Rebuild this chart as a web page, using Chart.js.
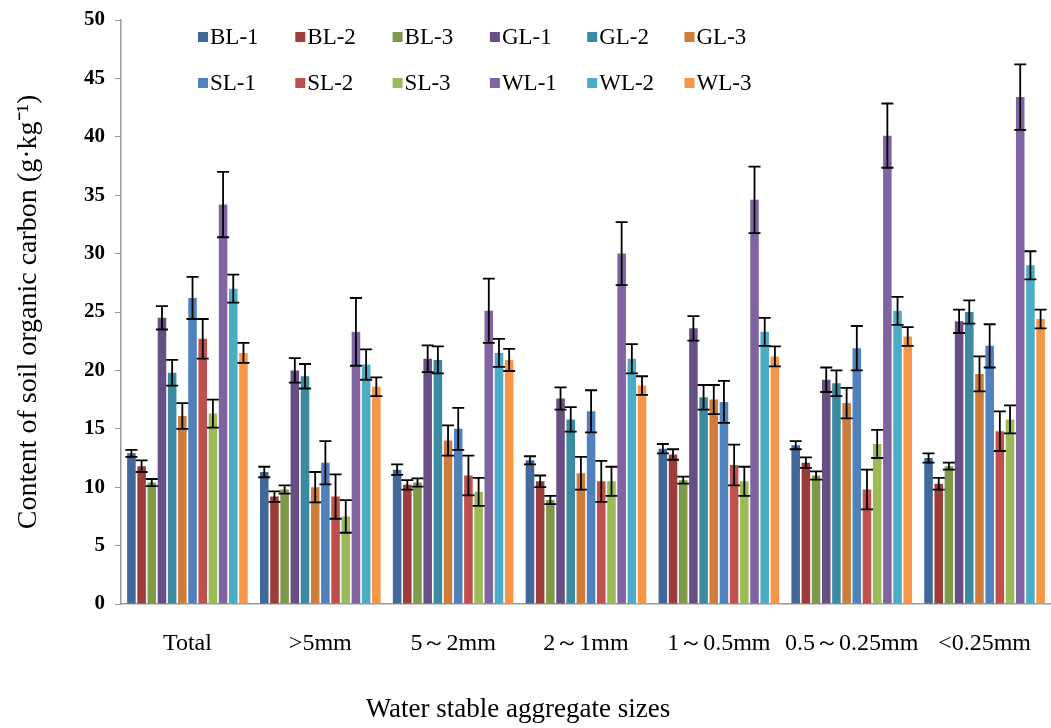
<!DOCTYPE html>
<html>
<head>
<meta charset="utf-8">
<script src="https://cdn.jsdelivr.net/npm/chart.js@4.4.1/dist/chart.umd.min.js"></script>
<style>
html,body{margin:0;padding:0;background:#fff;}
#wrap{width:1051px;height:728px;position:relative;}
</style>
</head>
<body>
<div id="wrap"><canvas id="c" width="1051" height="728"></canvas></div>
<script>
const categories = ["Total", ">5mm", "5～2mm", "2～1mm", "1～0.5mm", "0.5～0.25mm", "<0.25mm"];
const seriesNames = ["BL-1","BL-2","BL-3","GL-1","GL-2","GL-3","SL-1","SL-2","SL-3","WL-1","WL-2","WL-3"];
const seriesColors = ["#416898","#9C3D3A","#7E9A48","#674F85","#3A8AA1","#CD7C3A",
                      "#4F81BD","#C0504D","#9BBB59","#8064A2","#4BACC6","#F79646"];
const yTicks = [0,5,10,15,20,25,30,35,40,45,50];

// mean values per series (one value per category)
const BL1 = [12.9, 11.3, 11.5, 12.3, 13.3, 13.6, 12.5];
const BL2 = [11.8,  9.2, 10.2, 10.5, 12.8, 12.1, 10.3];
const BL3 = [10.4,  9.8, 10.4,  8.9, 10.6, 11.0, 11.8];
const GL1 = [24.5, 20.0, 21.0, 17.6, 23.6, 19.2, 24.2];
const GL2 = [19.8, 19.5, 20.9, 15.8, 17.7, 18.9, 25.0];
const GL3 = [16.1, 10.0, 14.0, 11.2, 17.5, 17.2, 19.7];
const SL1 = [26.2, 12.1, 15.0, 16.5, 17.3, 21.9, 22.1];
const SL2 = [22.7,  9.2, 11.0, 10.5, 11.9,  9.8, 14.8];
const SL3 = [16.3,  7.5,  9.6, 10.5, 10.5, 13.7, 15.8];
const WL1 = [34.2, 23.3, 25.1, 30.0, 34.6, 40.1, 43.4];
const WL2 = [27.0, 20.5, 21.5, 21.0, 23.3, 25.1, 29.0];
const WL3 = [21.5, 18.6, 20.9, 18.7, 21.2, 22.9, 24.4];

// error (± half-range) per series
const BL1e = [0.3, 0.45, 0.45, 0.35, 0.4, 0.35, 0.4];
const BL2e = [0.5, 0.45, 0.4, 0.5, 0.45, 0.45, 0.5];
const BL3e = [0.3, 0.35, 0.35, 0.35, 0.3, 0.35, 0.3];
const GL1e = [1.0, 1.05, 1.15, 0.95, 1.05, 1.05, 1.0];
const GL2e = [1.1, 1.05, 1.15, 1.05, 1.05, 1.1, 1.0];
const GL3e = [1.1, 1.3, 1.3, 1.4, 1.25, 1.3, 1.5];
const SL1e = [1.8, 1.85, 1.8, 1.8, 1.8, 1.9, 1.85];
const SL2e = [1.7, 1.9, 1.7, 1.75, 1.75, 1.7, 1.7];
const SL3e = [1.2, 1.4, 1.2, 1.25, 1.25, 1.2, 1.2];
const WL1e = [2.8, 2.9, 2.75, 2.7, 2.85, 2.75, 2.8];
const WL2e = [1.2, 1.3, 1.2, 1.25, 1.2, 1.2, 1.2];
const WL3e = [0.85, 0.8, 0.95, 0.8, 0.85, 0.8, 0.8];

const seriesValues = [BL1,BL2,BL3,GL1,GL2,GL3,SL1,SL2,SL3,WL1,WL2,WL3];
const seriesErrors = [BL1e,BL2e,BL3e,GL1e,GL2e,GL3e,SL1e,SL2e,SL3e,WL1e,WL2e,WL3e];

const FONT = "'Liberation Serif', 'Times New Roman', serif";

const datasets = seriesNames.map((n,i)=>({
  label:n,
  data:seriesValues[i],
  errors:seriesErrors[i],
  backgroundColor:seriesColors[i],
  borderWidth:0,
  categoryPercentage:0.92,
  barPercentage:0.84
}));

const errorBars = {
  id:'errorBars',
  afterDatasetsDraw(chart){
    const ctx = chart.ctx, ys = chart.scales.y;
    ctx.save();
    ctx.strokeStyle = '#000';
    ctx.lineWidth = 1.8;
    chart.data.datasets.forEach((ds,di)=>{
      const meta = chart.getDatasetMeta(di);
      meta.data.forEach((bar,j)=>{
        const v = ds.data[j], e = ds.errors[j];
        const x = bar.x;
        const yt = ys.getPixelForValue(v+e), yb = ys.getPixelForValue(v-e);
        const hw = 6;
        ctx.beginPath();
        ctx.moveTo(x,yt); ctx.lineTo(x,yb);
        ctx.moveTo(x-hw,yt); ctx.lineTo(x+hw,yt);
        ctx.moveTo(x-hw,yb); ctx.lineTo(x+hw,yb);
        ctx.stroke();
      });
    });
    ctx.restore();
  }
};

const customLegend = {
  id:'customLegend',
  afterDraw(chart){
    const ctx = chart.ctx;
    ctx.save();
    ctx.font = "23px " + FONT;
    ctx.textBaseline = 'middle';
    ctx.textAlign = 'left';
    const x0 = 198, dx = 97.3, rows = [37, 83];
    chart.data.datasets.forEach((ds,i)=>{
      const col = i % 6, row = Math.floor(i/6);
      const x = x0 + col*dx, y = rows[row];
      ctx.fillStyle = ds.backgroundColor;
      ctx.fillRect(x, y-5, 10, 10);
      ctx.fillStyle = '#000';
      ctx.fillText(ds.label, x+12, y+1);
    });
    ctx.restore();
  }
};

const xTitle = {
  id:'xTitle',
  afterDraw(chart){
    const ctx = chart.ctx;
    ctx.save();
    ctx.font = "27px " + FONT;
    ctx.fillStyle = '#000';
    ctx.textAlign = 'center';
    ctx.textBaseline = 'middle';
    ctx.fillText("Water stable aggregate sizes", 518, 710);
    ctx.restore();
  }
};

new Chart(document.getElementById('c'), {
  type:'bar',
  data:{labels:categories, datasets},
  plugins:[errorBars, customLegend, xTitle],
  options:{
    responsive:false,
    animation:false,
    devicePixelRatio:1,
    layout:{padding:{top:20,right:0,bottom:0,left:0}},
    plugins:{legend:{display:false}, tooltip:{enabled:false}},
    scales:{
      x:{
        grid:{display:false, drawTicks:false},
        border:{display:true, color:'#999', width:1.5},
        ticks:{font:{family:FONT,size:24}, color:'#000', padding:25, maxRotation:0, autoSkip:false},
        afterFit(s){ s.height = 124; s.paddingLeft = 0; s.paddingRight = 0; }
      },
      y:{
        min:0, max:50,
        afterBuildTicks(s){ s.ticks = yTicks.map(v=>({value:v})); },
        grid:{drawOnChartArea:false, drawTicks:true, tickLength:6, color:'#999'},
        border:{display:true, color:'#999', width:1.5},
        ticks:{font:{family:FONT,size:21,weight:'bold'}, color:'#000', padding:10},
        title:{display:true, text:"Content of soil organic carbon (g·kg⁻¹)", font:{family:FONT,size:28}, color:'#000', padding:{top:12,bottom:0}},
        afterFit(s){ s.width = 121; s.paddingTop = 0; s.paddingBottom = 0; }
      }
    }
  }
});
</script>
</body>
</html>
